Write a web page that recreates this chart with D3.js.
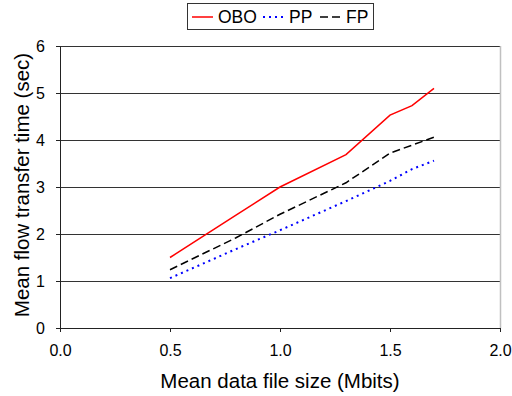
<!DOCTYPE html>
<html>
<head>
<meta charset="utf-8">
<script src="https://cdn.jsdelivr.net/npm/d3@7"></script>
<style>
  body { margin: 0; background: #fff; }
  svg text { font-family: "Liberation Sans", Arial, sans-serif; fill: #000; }
</style>
</head>
<body>
<svg id="chart" width="512" height="396"></svg>
<script>
// data
var fileSizes = [0.5, 0.8, 1.0, 1.3, 1.5, 1.6, 1.7];
var oboTimes = [1.5, 2.4, 3.0, 3.69, 4.53, 4.73, 5.10];
var ppTimes  = [1.06, 1.68, 2.08, 2.70, 3.13, 3.38, 3.56];
var fpTimes  = [1.24, 1.92, 2.42, 3.09, 3.72, 3.89, 4.06];
var seriesNames = ["OBO", "PP", "FP"];
var xTicks = [0, 0.5, 1.0, 1.5, 2.0];
var yTicks = [0, 1, 2, 3, 4, 5, 6];

var margin = {top: 46, right: 12, bottom: 68, left: 60};
var height = 396 - margin.top - margin.bottom;

var svg = d3.select("#chart");
var g = svg.append("g")
    .attr("transform", "translate(" + margin.left + "," + margin.top + ")");

var x = d3.scaleLinear().domain([0, 2]).range([0, 440]);
var y = d3.scaleLinear().domain([0, 6]).range([height, 0]);

// gridlines
g.selectAll(".grid").data(yTicks.slice(1))
  .enter().append("line")
    .attr("class", "grid")
    .attr("x1", 0).attr("x2", x(2))
    .attr("y1", d => y(d) + 0.5).attr("y2", d => y(d) + 0.5)
    .attr("stroke", "#333").attr("stroke-width", 1);

// right border of plot area
g.append("line")
    .attr("x1", x(2) + 0.5).attr("x2", x(2) + 0.5)
    .attr("y1", y(6)).attr("y2", y(0))
    .attr("stroke", "#c0c0c0").attr("stroke-width", 1.5);

// axes
var xAxis = g.append("g")
    .attr("transform", "translate(0," + height + ")")
    .call(d3.axisBottom(x).tickValues(xTicks).tickFormat(d3.format(".1f")).tickSize(4).tickSizeOuter(0));
var yAxis = g.append("g")
    .call(d3.axisLeft(y).tickValues(yTicks).tickFormat(d3.format("d")).tickSize(4).tickSizeOuter(0));

[xAxis, yAxis].forEach(function(a) {
  a.select(".domain").attr("stroke", "#222");
  a.selectAll(".tick line").attr("stroke", "#222");
  a.selectAll("text").attr("font-size", "16px").attr("fill", "#000")
    .style("font-family", "'Liberation Sans', Arial, sans-serif");
});
xAxis.selectAll("text").attr("dy", "1.3em");
yAxis.selectAll("text").attr("x", -15);

// series
var series = [
  {name: seriesNames[0], vals: oboTimes, color: "#ff0000", dash: null, w: 1.5},
  {name: seriesNames[1], vals: ppTimes, color: "#0000ff", dash: "2,4", w: 2},
  {name: seriesNames[2], vals: fpTimes, color: "#000000", dash: "8,4", w: 1.5}
];

var line = d3.line()
    .x((d, i) => x(fileSizes[i]))
    .y(d => y(d));

g.selectAll(".series").data(series)
  .enter().append("path")
    .attr("class", "series")
    .attr("d", d => line(d.vals))
    .attr("fill", "none")
    .attr("stroke", d => d.color)
    .attr("stroke-width", d => d.w)
    .attr("stroke-dasharray", d => d.dash);

// axis titles
svg.append("text")
    .attr("x", margin.left + x(1))
    .attr("y", 388)
    .attr("text-anchor", "middle")
    .attr("font-size", "20.5px")
    .text("Mean data file size (Mbits)");

svg.append("text")
    .attr("transform", "translate(29,185) rotate(-90)")
    .attr("text-anchor", "middle")
    .attr("font-size", "20.5px")
    .text("Mean flow transfer time (sec)");

// legend
var legend = svg.append("g").attr("transform", "translate(187,3)");
legend.append("rect")
    .attr("x", 0.5).attr("y", 0.5)
    .attr("width", 186).attr("height", 26)
    .attr("fill", "#fff").attr("stroke", "#333").attr("stroke-width", 1);

var legendX = [5, 76, 133];
var items = legend.selectAll(".item").data(series)
  .enter().append("g")
    .attr("class", "item")
    .attr("transform", (d, i) => "translate(" + legendX[i] + ",0)");
items.append("line")
    .attr("x1", 0).attr("x2", 21)
    .attr("y1", 14).attr("y2", 14)
    .attr("stroke", d => d.color)
    .attr("stroke-width", d => d.w)
    .attr("stroke-dasharray", d => d.dash);
items.append("text")
    .attr("x", 26).attr("y", 20)
    .attr("font-size", "17.5px")
    .text(d => d.name);
</script>
</body>
</html>
